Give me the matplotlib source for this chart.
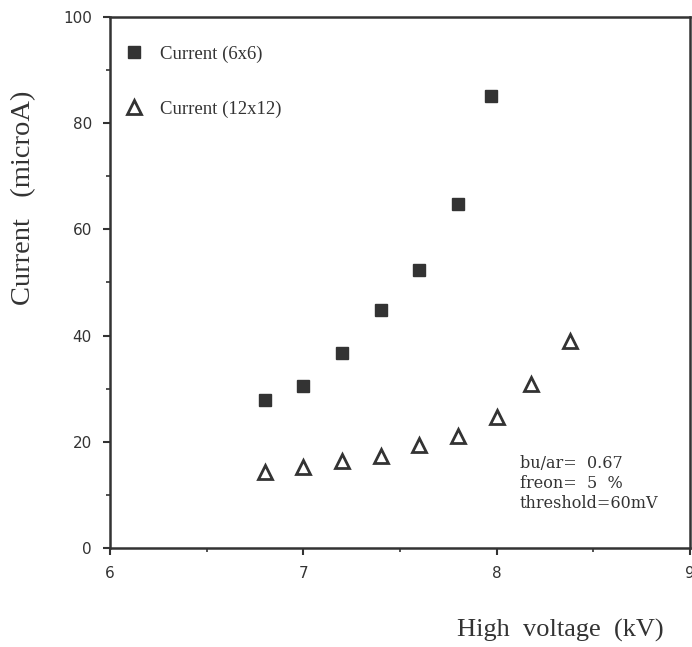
import matplotlib
matplotlib.use("Agg")
import matplotlib.pyplot as plt
from matplotlib.ticker import MultipleLocator

# data
hv_6x6 = [6.8, 7.0, 7.2, 7.4, 7.6, 7.8, 7.97]
cur_6x6 = [27.9, 30.5, 36.7, 44.8, 52.4, 64.8, 85.1]
hv_12x12 = [6.8, 7.0, 7.2, 7.4, 7.6, 7.8, 8.0, 8.18, 8.38]
cur_12x12 = [14.4, 15.3, 16.3, 17.4, 19.4, 21.0, 24.7, 30.8, 39.0]

ink = '#333333'

fig = plt.figure(figsize=(6.92, 6.47), dpi=100)
ax = fig.add_axes([0.159, 0.153, 0.838, 0.821])

ax.plot(hv_6x6, cur_6x6, ls='none', marker='s', ms=8.5, color=ink,
        mec=ink, label='Current (6x6)')
ax.plot(hv_12x12, cur_12x12, ls='none', marker='^', ms=10, mfc='white',
        mec=ink, mew=2, label='Current (12x12)')

ax.set_xlim(6, 9)
ax.set_ylim(0, 100)
ax.xaxis.set_major_locator(MultipleLocator(1))
ax.xaxis.set_minor_locator(MultipleLocator(0.5))
ax.yaxis.set_major_locator(MultipleLocator(20))
ax.yaxis.set_minor_locator(MultipleLocator(10))
ax.tick_params(which='major', direction='out', length=5, width=1.5,
               colors=ink, labelsize=11, pad=8)
ax.tick_params(which='minor', direction='out', length=3, width=1.2, colors=ink)
for lab in ax.get_xticklabels() + ax.get_yticklabels():
    lab.set_family('DejaVu Sans')
for s in ax.spines.values():
    s.set_linewidth(1.8)
    s.set_color(ink)

leg = ax.legend(loc='upper left', bbox_to_anchor=(0.012, 0.96), frameon=False,
                prop={'family': 'Liberation Serif', 'size': 13.5},
                labelspacing=2.0, handlelength=1.0, handletextpad=0.9,
                borderaxespad=0, numpoints=1)
for t in leg.get_texts():
    t.set_color(ink)

ax.text(8.12, 17.6, 'bu/ar=  0.67\nfreon=  5  %\nthreshold=60mV',
        fontsize=11.5, color=ink, family='DejaVu Serif', va='top',
        linespacing=1.25)

fig.text(0.034, 0.694, 'Current   (microA)', rotation=90, ha='center',
         va='center', fontsize=20.5, family='Liberation Serif', color=ink)
fig.text(0.809, 0.026, 'High  voltage  (kV)', ha='center', va='center',
         fontsize=19, family='Liberation Serif', color=ink)

fig.savefig('out.png', dpi=100)
